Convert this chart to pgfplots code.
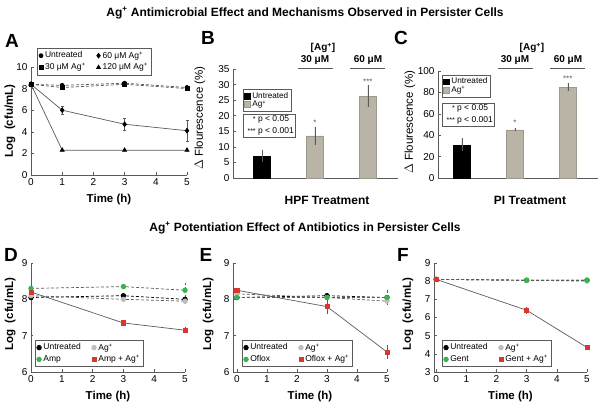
\documentclass[border=0pt]{standalone}
\usepackage{pgfplots}
\pgfplotsset{compat=1.18}
\usepackage{fontspec}
\setmainfont{Liberation Sans}
\setsansfont{Liberation Sans}
\definecolor{linegray}{HTML}{5A5A5A}
\definecolor{bargray}{HTML}{BAB4A7}
\definecolor{mgreen}{HTML}{34B44C}
\definecolor{mred}{HTML}{D7372D}
\definecolor{mlgray}{HTML}{BDBDBD}
\pgfplotsset{
  base/.style={
    scale only axis, axis lines=left, axis line style={-, linegray, line width=0.7pt},
    tick align=inside, major tick length=2.5pt, tick style={linegray, line width=0.5pt},
    /pgf/number format/assume math mode=true,
    tick label style={font=\fontsize{10}{11}\selectfont},
    clip=false,
  },
  curve/.style={base, xmin=0, xmax=5, xtick={0,1,2,3,4,5}, xlabel={Time (h)}, ylabel={Log\ \ (cfu/mL)},
    xlabel style={font=\bfseries\fontsize{11.5}{13}\selectfont, at={(axis description cs:0.5,0)}, anchor=center, yshift=-25pt},
    ylabel style={font=\bfseries\fontsize{11.5}{13}\selectfont, anchor=center},
    legend columns=2,
    legend style={draw=linegray, line width=0.6pt, font=\fontsize{8.5}{9.5}\selectfont, inner sep=1.5pt,
      row sep=0pt, anchor=north west, fill=white, cells={anchor=west},
      /tikz/every even column/.style={column sep=9pt}},
    legend image code/.code={\draw[##1,only marks] plot coordinates {(0.1cm,0cm)};},
  },
  barax/.style={base, xtick=\empty, ymin=0,
    ylabel={$\Delta$ Flourescence (\%)},
    ylabel style={font=\fontsize{11.5}{13}\selectfont, anchor=center},
    legend style={draw=linegray, line width=0.6pt, font=\fontsize{8.2}{9}\selectfont, inner sep=0.8pt,
      row sep=-3pt, anchor=north west, fill=white, cells={anchor=west}},
    legend image code/.code={\fill[##1] (0cm,-0.1cm) rectangle (0.2cm,0.1cm);},
  },
}
\begin{document}
\begin{tikzpicture}
\path[use as bounding box] (0pt,0pt) rectangle (600pt,417pt);
% titles
\node[font=\bfseries\fontsize{12}{14}\selectfont] at (305pt,404pt) {Ag\textsuperscript{+} Antimicrobial Effect and Mechanisms Observed in Persister Cells};
\node[font=\bfseries\fontsize{12}{14}\selectfont] at (305pt,189pt) {Ag\textsuperscript{+} Potentiation Effect of Antibiotics in Persister Cells};
\foreach \l/\x/\y in {A/12/376,B/208/379,C/401/379,D/11/162,E/206/162,F/403/162}
  \node[font=\bfseries\fontsize{19}{20}\selectfont] at (\x pt,\y pt) {\l};

% ---------- Panel A ----------
\begin{axis}[curve, at={(31pt,242pt)}, anchor=south west, width=156pt, height=108pt,
  ymin=0, ymax=10, ytick={0,2,4,6,8,10},
  ylabel style={at={(axis description cs:-0.135,0.5)}},
  legend style={at={(axis description cs:0.04,1.176)}}]
\addplot[linegray, densely dashed, line width=0.7pt, mark=*, mark size=2pt, mark options={solid, fill=black, draw=black}]
  coordinates {(0,8.4) (1,8.3) (3,8.5) (5,8.1)};
\addlegendentry{Untreated}
\addplot[linegray, line width=0.7pt, mark=diamond*, mark size=2.4pt, mark options={solid, fill=black, draw=black},
  error bars/.cd, y dir=both, y explicit, error bar style={linegray, line width=0.5pt}, error mark options={rotate=90, mark size=1.5pt, linegray}]
  coordinates {(0,8.4) +- (0,0) (1,6.0) +- (0,0.4) (3,4.7) +- (0,0.55) (5,4.1) +- (0,0.95)};
\addlegendentry{60 μM Ag\textsuperscript{+}}
\addplot[linegray, densely dashed, line width=0.7pt, mark=square*, mark size=1.9pt, mark options={solid, fill=black, draw=black}]
  coordinates {(0,8.4) (1,8.1) (3,8.4) (5,8.0)};
\addlegendentry{30 μM Ag\textsuperscript{+}}
\addplot[linegray, line width=0.7pt, mark=triangle*, mark size=2.3pt, mark options={solid, fill=black, draw=black}]
  coordinates {(0,8.4) (1,2.3) (3,2.3) (5,2.3)};
\addlegendentry{120 μM Ag\textsuperscript{+}}
\end{axis}

% ---------- Panel B ----------
\begin{axis}[barax, at={(233pt,239pt)}, anchor=south west, width=165pt, height=109pt,
  xmin=-0.55, xmax=2.57, ymax=35, ytick={0,5,10,15,20,25,30,35},
  ylabel style={at={(axis description cs:-0.2,0.55)}},
  legend style={at={(axis description cs:0.06,0.815)}}]
\addplot[ybar, bar width=17pt, fill=black, draw=black,
  error bars/.cd, y dir=both, y explicit, error bar style={linegray, line width=0.5pt}, error mark=none]
  coordinates {(0,7) +- (0,2)};
\addlegendentry{Untreated}
\addplot[ybar, bar width=17pt, fill=bargray, draw=bargray!85!black,
  error bars/.cd, y dir=both, y explicit, error bar style={linegray, line width=0.5pt}, error mark=none]
  coordinates {(1,13.5) +- (0,2.9) (2,26.3) +- (0,3.5)};
\addlegendentry{Ag\textsuperscript{+}}
\node[font=\fontsize{8}{9}\selectfont, anchor=base, text=linegray] at (axis cs:1,16.9) {*};
\node[font=\fontsize{8}{9}\selectfont, anchor=base, text=linegray] at (axis cs:2,30.0) {***};
\node[draw=linegray, line width=0.6pt, anchor=north west, align=left, inner sep=1.5pt,
  font=\fontsize{8.5}{12}\selectfont] at (axis description cs:0.06,0.585)
  {\makebox[11pt][r]{{\scriptsize *}} p < 0.05\\ \makebox[11pt][r]{{\scriptsize ***}} p < 0.001};
\end{axis}
\node[font=\bfseries\fontsize{10}{11}\selectfont] at (323pt,369pt) {[Ag\textsuperscript{+}]};
\node[font=\bfseries\fontsize{10}{11}\selectfont] at (315pt,357pt) {30 μM};
\node[font=\bfseries\fontsize{10}{11}\selectfont] at (368pt,357pt) {60 μM};
\draw[linegray, line width=0.8pt] (298pt,349pt) -- (333pt,349pt);
\draw[linegray, line width=0.8pt] (350pt,349pt) -- (385pt,349pt);
\node[font=\bfseries\fontsize{12}{14}\selectfont] at (327pt,217pt) {HPF Treatment};

% ---------- Panel C ----------
\begin{axis}[barax, at={(438pt,239pt)}, anchor=south west, width=160pt, height=107pt,
  xmin=-0.45, xmax=2.57, ymax=100, ytick={0,20,40,60,80,100},
  ylabel style={at={(axis description cs:-0.175,0.52)}},
  legend style={at={(axis description cs:0.025,0.963)}}]
\addplot[ybar, bar width=17pt, fill=black, draw=black,
  error bars/.cd, y dir=both, y explicit, error bar style={linegray, line width=0.5pt}, error mark=none]
  coordinates {(0,31) +- (0,6)};
\addlegendentry{Untreated}
\addplot[ybar, bar width=17pt, fill=bargray, draw=bargray!85!black,
  error bars/.cd, y dir=both, y explicit, error bar style={linegray, line width=0.5pt}, error mark=none]
  coordinates {(1,45) +- (0,1.5) (2,85) +- (0,4)};
\addlegendentry{Ag\textsuperscript{+}}
\node[font=\fontsize{8}{9}\selectfont, anchor=base, text=linegray] at (axis cs:1,49.5) {*};
\node[font=\fontsize{8}{9}\selectfont, anchor=base, text=linegray] at (axis cs:2,90.5) {***};
\node[draw=linegray, line width=0.6pt, anchor=north west, align=left, inner sep=1.5pt,
  font=\fontsize{8.5}{12}\selectfont] at (axis description cs:0.025,0.70)
  {\makebox[11pt][r]{{\scriptsize *}} p < 0.05\\ \makebox[11pt][r]{{\scriptsize ***}} p < 0.001};
\end{axis}
\node[font=\bfseries\fontsize{10}{11}\selectfont] at (532pt,369pt) {[Ag\textsuperscript{+}]};
\node[font=\bfseries\fontsize{10}{11}\selectfont] at (515pt,357pt) {30 μM};
\node[font=\bfseries\fontsize{10}{11}\selectfont] at (568pt,357pt) {60 μM};
\draw[linegray, line width=0.8pt] (498pt,349pt) -- (533pt,349pt);
\draw[linegray, line width=0.8pt] (550pt,349pt) -- (585pt,349pt);
\node[font=\bfseries\fontsize{12}{14}\selectfont] at (530pt,217pt) {PI Treatment};

% ---------- Panel D ----------
\begin{axis}[curve, at={(31pt,45pt)}, anchor=south west, width=154pt, height=109pt,
  ymin=6, ymax=9, ytick={6,7,8,9},
  ylabel style={at={(axis description cs:-0.136,0.53)}},
  legend style={at={(axis description cs:0.026,0.294)}}]
\addplot[black, densely dashed, line width=0.7pt, mark=*, mark size=2.3pt, mark options={solid, fill=black, draw=black},
  error bars/.cd, y dir=both, y explicit, error bar style={linegray}, error mark=none]
  coordinates {(0,8.05) +- (0,0.05) (3,8.1) +- (0,0.1) (5,8.0) +- (0,0.08)};
\addlegendentry{Untreated}
\addplot[linegray, densely dashed, line width=0.7pt, mark=*, mark size=2.3pt, mark options={solid, fill=mlgray, draw=mlgray},
  error bars/.cd, y dir=both, y explicit, error bar style={linegray}, error mark=none]
  coordinates {(0,8.1) +- (0,0.05) (3,8.0) +- (0,0.12) (5,7.95) +- (0,0.1)};
\addlegendentry{Ag\textsuperscript{+}}
\addplot[linegray, densely dashed, line width=0.7pt, mark=*, mark size=2.3pt, mark options={solid, fill=mgreen, draw=mgreen},
  error bars/.cd, y dir=both, y explicit, error bar style={linegray}, error mark=none]
  coordinates {(0,8.3) +- (0,0.1) (3,8.35) +- (0,0.05) (5,8.25) +- (0,0.2)};
\addlegendentry{Amp}
\addplot[linegray, line width=0.7pt, mark=square*, mark size=2.1pt, mark options={solid, fill=mred, draw=mred},
  error bars/.cd, y dir=both, y explicit, error bar style={linegray}, error mark=none]
  coordinates {(0,8.2) +- (0,0.05) (3,7.35) +- (0,0.05) (5,7.15) +- (0,0.08)};
\addlegendentry{Amp + Ag\textsuperscript{+}}
\end{axis}

% ---------- Panel E ----------
\begin{axis}[curve, at={(233pt,45pt)}, anchor=south west, width=154pt, height=109pt,
  xmin=-0.13, ymin=6, ymax=9, ytick={6,7,8,9},
  ylabel style={at={(axis description cs:-0.162,0.53)}},
  legend style={at={(axis description cs:0.058,0.294)}}]
\addplot[black, densely dashed, line width=0.7pt, mark=*, mark size=2.3pt, mark options={solid, fill=black, draw=black},
  error bars/.cd, y dir=both, y explicit, error bar style={linegray}, error mark=none]
  coordinates {(0,8.05) +- (0,0.05) (3,8.1) +- (0,0.05) (5,8.05) +- (0,0.05)};
\addlegendentry{Untreated}
\addplot[linegray, densely dashed, line width=0.7pt, mark=*, mark size=2.3pt, mark options={solid, fill=mlgray, draw=mlgray},
  error bars/.cd, y dir=both, y explicit, error bar style={linegray}, error mark=none]
  coordinates {(0,8.15) +- (0,0.05) (3,8.05) +- (0,0.05) (5,7.95) +- (0,0.1)};
\addlegendentry{Ag\textsuperscript{+}}
\addplot[linegray, densely dashed, line width=0.7pt, mark=*, mark size=2.3pt, mark options={solid, fill=mgreen, draw=mgreen},
  error bars/.cd, y dir=both, y explicit, error bar style={linegray}, error mark=none]
  coordinates {(0,8.05) +- (0,0.05) (3,8.05) +- (0,0.05) (5,8.05) +- (0,0.2)};
\addlegendentry{Oflox}
\addplot[linegray, line width=0.7pt, mark=square*, mark size=2.1pt, mark options={solid, fill=mred, draw=mred},
  error bars/.cd, y dir=both, y explicit, error bar style={linegray}, error mark=none]
  coordinates {(0,8.25) +- (0,0.05) (3,7.8) +- (0,0.2) (5,6.55) +- (0,0.2)};
\addlegendentry{Oflox + Ag\textsuperscript{+}}
\end{axis}

% ---------- Panel F ----------
\begin{axis}[curve, at={(434pt,45pt)}, anchor=south west, width=153pt, height=109pt,
  xmin=-0.07, ymin=3, ymax=9, ytick={3,4,5,6,7,8,9},
  ylabel style={at={(axis description cs:-0.17,0.53)}},
  legend style={at={(axis description cs:0.052,0.294)}}]
\addplot[black, densely dashed, line width=0.7pt, mark=*, mark size=2.3pt, mark options={solid, fill=black, draw=black}]
  coordinates {(0,8.1) (3,8.05) (5,8.05)};
\addlegendentry{Untreated}
\addplot[linegray, densely dashed, line width=0.7pt, mark=*, mark size=2.3pt, mark options={solid, fill=mlgray, draw=mlgray}]
  coordinates {(0,8.1) (3,8.05) (5,8.0)};
\addlegendentry{Ag\textsuperscript{+}}
\addplot[linegray, densely dashed, line width=0.7pt, mark=*, mark size=2.3pt, mark options={solid, fill=mgreen, draw=mgreen},
  error bars/.cd, y dir=both, y explicit, error bar style={linegray}, error mark=none]
  coordinates {(0,8.1) +- (0,0.05) (3,8.05) +- (0,0.05) (5,8.05) +- (0,0.1)};
\addlegendentry{Gent}
\addplot[linegray, line width=0.7pt, mark=square*, mark size=2.1pt, mark options={solid, fill=mred, draw=mred},
  error bars/.cd, y dir=both, y explicit, error bar style={linegray}, error mark=none]
  coordinates {(0,8.1) +- (0,0.05) (3,6.4) +- (0,0.2) (5,4.35) +- (0,0.05)};
\addlegendentry{Gent + Ag\textsuperscript{+}}
\end{axis}
\end{tikzpicture}
\end{document}
